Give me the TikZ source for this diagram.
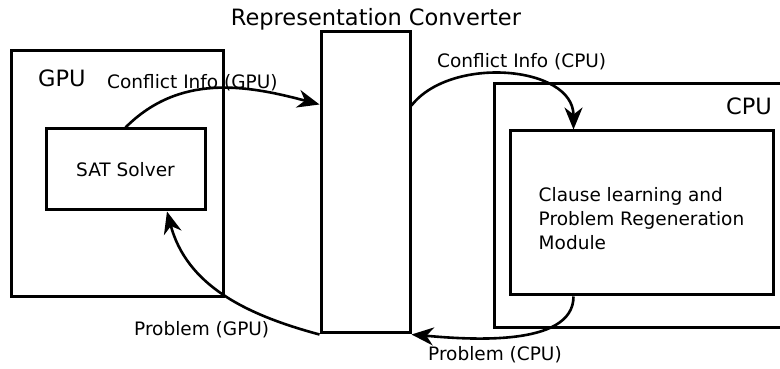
\documentclass[tikz,border=0pt]{standalone}
\usepackage{fontspec}
\setmainfont{DejaVu Sans}
\usetikzlibrary{shapes,arrows.meta}

\begin{document}
\begin{tikzpicture}[
    x=1pt, y=1pt,
    box/.style={rectangle, draw, line width=3pt, inner sep=0pt},
    line/.style={draw, line width=2.6pt, -{Stealth[length=22pt, width=18pt, inset=7pt]}},
    lbl/.style={font=\fontsize{18.5}{24}\selectfont, inner sep=0pt, anchor=base west},
    big/.style={font=\fontsize{22.5}{27}\selectfont, inner sep=0pt}
]
    \useasboundingbox (0,0) rectangle (780,369);

    % Processing units
    \node [box, minimum width=212pt, minimum height=246pt] (gpu) at (117,195) {};
    \node [box, minimum width=306pt, minimum height=244pt] (cpu) at (647,163) {};
    \node [big, anchor=base west] (gpulabel) at (38,282) {GPU};
    \node [big, anchor=base east] (cpulabel) at (772,254) {CPU};

    % Inner blocks
    \node [box, minimum width=159pt, minimum height=81pt, font=\fontsize{18.5}{24}\selectfont] (sat) at (125.5,199.5) {SAT Solver};
    \node [box, minimum width=263pt, minimum height=164pt] (module) at (641.5,156) {};
    \node [align=left, inner sep=0pt, font=\fontsize{18.5}{24}\selectfont] (moduletext) at ([yshift=-6pt]module.center) {Clause learning and\\Problem Regeneration\\Module};

    % Converter in the middle
    \node [box, minimum width=89pt, minimum height=301pt] (conv) at (365.5,186.5) {};
    \node [big, anchor=base] (convlabel) at (376,343) {Representation Converter};

    % Paths
    \path [line] (sat.north) to[out=45, in=165] ([yshift=-74pt]conv.north west);
    \path [line] ([yshift=-75pt]conv.north east) to[out=52, in=90] ([xshift=65pt]module.north west);
    \path [line] ([xshift=65pt]module.south west) to[out=-90, in=-5, looseness=0.8] (conv.south east);
    \path [line] (conv.south west) to[out=165, in=-75] ([xshift=41.5pt]sat.south);

    % Path labels
    \node [lbl] (cigpu) at (107,280) {Conflict Info (GPU)};
    \node [lbl] (cicpu) at (437,301) {Conflict Info (CPU)};
    \node [lbl] (pgpu) at (134,33) {Problem (GPU)};
    \node [lbl] (pcpu) at (428,8) {Problem (CPU)};

\end{tikzpicture}
\end{document}
